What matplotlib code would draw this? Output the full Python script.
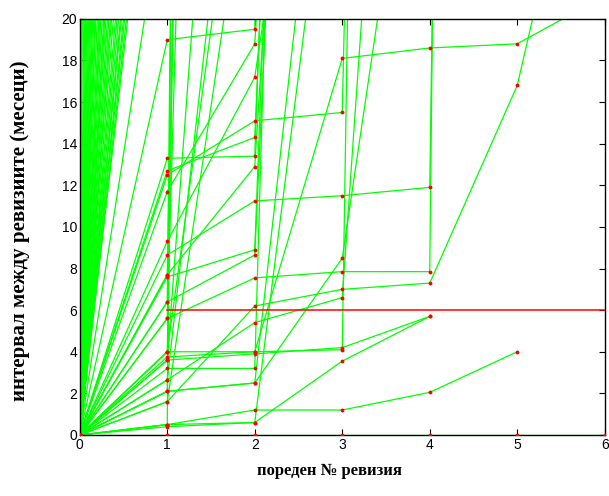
import numpy as np
import matplotlib
matplotlib.use("Agg")
import matplotlib.pyplot as plt

# Interval between revisions (months) for each item, indexed by revision number.
# Every trajectory starts at (0, 0); values above 20 run off the top of the axes.
series_bottom = [0, 0, 0, 0, 0, 0, 0]
series_a = [0, 0.5, 1.2, 1.2, 2.05, 4.0]
series_b = [0, 0.4, 0.6, 3.55, 5.7]
series_c = [0, 19.0, 19.5, 150]
series_d = [0, 13.3, 13.4, 130]
series_e = [0, 12.7, 14.3, 110]
series_f = [0, 12.5, 15.1, 15.5, 200]
series_g = [0, 11.7, 18.8, 90]
series_h = [0, 9.3, 17.2, 45]
series_i = [0, 8.65, 11.25, 11.5, 11.9, 300]
series_j = [0, 7.7, 12.9, 80]
series_k = [0, 7.6, 8.9, 120]
series_l = [0, 6.4, 8.65, 100]
series_m = [0, 5.6, 7.55, 7.85, 7.85, 400]
series_n = [0, 4.0, 4.0, 18.1, 18.6, 18.8, 21.1]
series_o = [0, 3.75, 4.0, 4.1, 270]
series_p = [0, 3.6, 3.9, 4.2, 5.7]
series_q = [0, 3.2, 3.2, 150]
series_r = [0, 2.65, 5.4, 6.6, 67]
series_s = [0, 2.1, 2.5, 8.5, 37]
series_t = [0, 1.6, 6.2, 7.0, 7.3, 16.8, 35]
series_u = [0, 0.5, 500]
series_v = [0, 2.1, 300]
series_w = [0, 4.0, 250]
series_x = [0, 6.4, 400]
series_y = [0, 5.6, 150]
series_z = [0, 7.7, 200]
series_aa = [0, 3.6, 60]
series_ab = [0, 2.65, 40]
series_ac = [0, 1.6, 30]
series_ad = [0, 4.0, 35]
series_ae = [0, 0.5, 0.6, 34]
series_af = [0, 2.1, 2.5, 40]

# first intervals that are already longer than the y range
first_long = [437, 350, 292, 250, 219, 195, 175, 160, 146, 135, 125, 116,
              109, 100, 92, 87, 83, 78, 73, 70, 67, 63, 60, 57, 55, 52,
              49, 47, 45, 43, 42, 40, 39, 37.5, 36.5, 27, 900, 1500, 700]

limit_x = [1, 2, 3, 4, 5, 6]
limit_y = [6, 6, 6, 6, 6, 6]

all_series = [series_bottom, series_a, series_b, series_c, series_d, series_e,
              series_f, series_g, series_h, series_i, series_j, series_k,
              series_l, series_m, series_n, series_o, series_p, series_q,
              series_r, series_s, series_t, series_u, series_v, series_w,
              series_x, series_y, series_z, series_aa, series_ab, series_ac,
              series_ad, series_ae, series_af]
all_series += [[0, v] for v in first_long]

fig = plt.figure(figsize=(6.09, 4.96), dpi=100)
ax = fig.add_axes([0.131, 0.123, 0.862, 0.839])

for s in all_series:
    xs = np.arange(len(s))
    ax.plot(xs, s, '-', color='#00ff00', linewidth=0.9, zorder=2)
    ax.plot(xs, s, '.', color='red', markersize=3.5, zorder=3)

ax.plot(limit_x, limit_y, '-', color='red', linewidth=1.1, zorder=4)

ax.set_xlim(0, 6)
ax.set_ylim(0, 20)
ax.set_xticks(range(0, 7))
ax.set_yticks(range(0, 21, 2))
ax.tick_params(direction='in', top=True, right=True, length=4,
               labelsize=10, pad=2)
for lab in ax.get_xticklabels() + ax.get_yticklabels():
    lab.set_family('Liberation Sans')
for sp in ax.spines.values():
    sp.set_linewidth(1.0)

ax.set_xlabel('пореден № ревизия', family='Liberation Serif',
              fontweight='bold', fontsize=12)
ax.xaxis.set_label_coords(0.476, -0.068)
ax.set_ylabel('интервал между ревизиите (месеци)', family='Liberation Serif',
              fontweight='bold', fontsize=15)
ax.yaxis.set_label_coords(-0.095, 0.49)

plt.savefig('out.png', dpi=100)
